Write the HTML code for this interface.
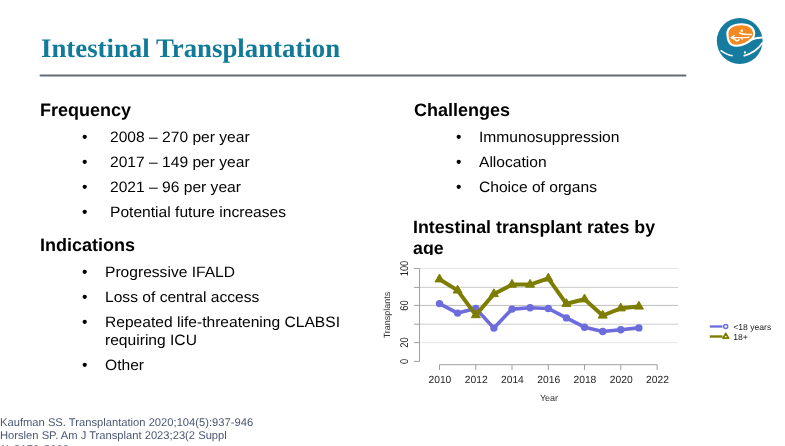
<!DOCTYPE html>
<html><head><meta charset="utf-8">
<style>
html,body{margin:0;padding:0;background:#fff;}
body{width:785px;height:446px;position:relative;overflow:hidden;will-change:transform;text-rendering:geometricPrecision;font-family:"Liberation Sans",sans-serif;color:#000;}
.a{position:absolute;white-space:nowrap;line-height:1;}
.title{font-family:"Liberation Serif",serif;font-weight:bold;font-size:26.8px;color:#117a98;left:41px;top:35.2px;}
.rule{position:absolute;left:39.5px;top:74.4px;width:647px;height:2px;border-radius:1px;background:#636b74;}
.h{font-weight:bold;font-size:18px;}
.t{font-size:15px;transform:scaleX(1.04);transform-origin:0 0;}
.b{font-size:15.6px;}
.ref{font-size:11.2px;color:#4b5874;}
svg{position:absolute;left:0;top:0;}
</style></head><body>
<svg width="785" height="446" viewBox="0 0 785 446">
<circle cx="739.7" cy="41" r="22.9" fill="#167c9f"/>
<path d="M727.4,34 C727.2,27.5 733.5,24.2 741.5,24.2 C749.5,24.2 754.2,28 754.2,33.5 C754.2,38 750.5,41 746,43.3 C741,45.6 735,46.3 731.5,44.6 C728.5,42.8 727.5,38.5 727.4,34Z" fill="#f3891f" stroke="#fff" stroke-width="2.1"/>
<path d="M749,40.6 C753.5,38.6 757.5,37.3 762.9,37.5" fill="none" stroke="#fff" stroke-width="1.8"/>
<path d="M762.9,42.3 C759.5,47.5 755,53 743.6,55.9" fill="none" stroke="#fff" stroke-width="1.6"/>
<path d="M720.6,50.4 C724.5,53.3 728,55.3 732.8,55.7" fill="none" stroke="#fff" stroke-width="1.6"/>
<circle cx="745" cy="52.4" r="1.1" fill="#fff"/>
<circle cx="741.8" cy="30.8" r="1.2" fill="#fff"/>
<path d="M739.3,32.2 C740,34.2 743,34.5 751.8,34.5" fill="none" stroke="#fff" stroke-width="1.4"/>
<path d="M734.6,35.2 L731.3,37.6 L734.2,39.2 M731.6,37.6 C738,37.5 744,37.6 749.5,37.3" fill="none" stroke="#fff" stroke-width="1.3"/>
<path d="M734.5,38.6 C735.5,41.5 738.5,41.6 739.2,39" fill="none" stroke="#fff" stroke-width="1.5"/>
<path d="M741.2,38.2 L742.6,39.6" fill="none" stroke="#fff" stroke-width="1.2"/>
</svg>
<div class="a title">Intestinal Transplantation</div>
<svg width="785" height="446" style="position:absolute;left:0;top:0"><line x1="40.5" y1="75.4" x2="685.5" y2="75.4" stroke="#636b74" stroke-width="2" stroke-linecap="round"/></svg>

<div class="a h" style="left:40px;top:101px">Frequency</div>
<div class="a b" style="left:82px;top:129.7px">•</div><div class="a t" style="left:110px;top:129.51px">2008 – 270 per year</div>
<div class="a b" style="left:82px;top:154.7px">•</div><div class="a t" style="left:110px;top:154.51px">2017 – 149 per year</div>
<div class="a b" style="left:82px;top:179.7px">•</div><div class="a t" style="left:110px;top:179.51px">2021 – 96 per year</div>
<div class="a b" style="left:82px;top:204.7px">•</div><div class="a t" style="left:110px;top:204.51px">Potential future increases</div>

<div class="a h" style="left:40px;top:236px">Indications</div>
<div class="a b" style="left:82px;top:264.7px">•</div><div class="a t" style="left:105px;top:264.51px">Progressive IFALD</div>
<div class="a b" style="left:82px;top:289.7px">•</div><div class="a t" style="left:105px;top:289.51px">Loss of central access</div>
<div class="a b" style="left:82px;top:314.7px">•</div><div class="a t" style="left:105px;top:314.51px">Repeated life-threatening CLABSI</div>
<div class="a t" style="left:105px;top:332.51px">requiring ICU</div>
<div class="a b" style="left:82px;top:357.7px">•</div><div class="a t" style="left:105px;top:357.51px">Other</div>

<div class="a h" style="left:414px;top:101px">Challenges</div>
<div class="a b" style="left:456px;top:129.7px">•</div><div class="a t" style="left:479px;top:129.51px">Immunosuppression</div>
<div class="a b" style="left:456px;top:154.7px">•</div><div class="a t" style="left:479px;top:154.51px">Allocation</div>
<div class="a b" style="left:456px;top:179.7px">•</div><div class="a t" style="left:479px;top:179.51px">Choice of organs</div>

<div class="a h" style="left:413px;top:218.5px;font-size:17.8px">Intestinal transplant rates by</div>
<div style="position:absolute;left:400px;top:230px;width:300px;height:25px;overflow:hidden">
<div class="a h" style="left:13px;top:9.5px;font-size:17.8px">age</div>
</div>

<svg width="785" height="446" viewBox="0 0 785 446">
<g stroke-width="1" fill="none">
<line x1="419.5" y1="268.5" x2="678" y2="268.5" stroke="#e6e6e6"/>
<line x1="419.5" y1="287.4" x2="678" y2="287.4" stroke="#cdcdcd"/>
<line x1="419.5" y1="305.4" x2="678" y2="305.4" stroke="#bdbdbd"/>
<line x1="419.5" y1="324.2" x2="678" y2="324.2" stroke="#cdcdcd"/>
<line x1="419.5" y1="342.6" x2="678" y2="342.6" stroke="#e6e6e6"/>
</g>
<g stroke="#a0a0a0" stroke-width="1" fill="none">
<path d="M419.5,268.5 V361.4 M414,268.5 H419.5 M414,287.4 H419.5 M414,305.4 H419.5 M414,324.2 H419.5 M414,342.6 H419.5 M414,361.4 H419.5"/>
<path d="M439.5,370 V364.7 H657.1 V370 M475.8,364.7 V370 M512,364.7 V370 M548.3,364.7 V370 M584.5,364.7 V370 M620.8,364.7 V370"/>
</g>
<polyline points="439.5,303.6 457.6,313.1 475.8,308.5 493.9,328.1 512.0,309.1 530.1,307.7 548.3,308.5 566.4,317.9 584.5,327.2 602.7,331.5 620.8,329.7 638.9,327.9" fill="none" stroke="#6c6cdd" stroke-width="3.6" stroke-linejoin="round"/>
<g fill="#6c6cdd"><circle cx="439.5" cy="303.6" r="3.7"/><circle cx="457.6" cy="313.1" r="3.7"/><circle cx="475.8" cy="308.5" r="3.7"/><circle cx="493.9" cy="328.1" r="3.7"/><circle cx="512.0" cy="309.1" r="3.7"/><circle cx="530.1" cy="307.7" r="3.7"/><circle cx="548.3" cy="308.5" r="3.7"/><circle cx="566.4" cy="317.9" r="3.7"/><circle cx="584.5" cy="327.2" r="3.7"/><circle cx="602.7" cy="331.5" r="3.7"/><circle cx="620.8" cy="329.7" r="3.7"/><circle cx="638.9" cy="327.9" r="3.7"/></g>
<polyline points="439.5,279.3 457.6,290.4 475.8,315.1 493.9,294.0 512.0,284.6 530.1,284.6 548.3,278.4 566.4,303.8 584.5,299.3 602.7,315.5 620.8,308.3 638.9,306.5" fill="none" stroke="#7d7d00" stroke-width="4" stroke-linejoin="round"/>
<g fill="#7d7d00" stroke="#7d7d00" stroke-width="1" stroke-linejoin="round"><path d="M439.5,274.1 L444.0,281.9 L435.0,281.9Z"/><path d="M457.6,285.2 L462.1,293.0 L453.1,293.0Z"/><path d="M475.8,309.9 L480.3,317.7 L471.3,317.7Z"/><path d="M493.9,288.8 L498.4,296.6 L489.4,296.6Z"/><path d="M512.0,279.4 L516.5,287.2 L507.5,287.2Z"/><path d="M530.1,279.4 L534.6,287.2 L525.6,287.2Z"/><path d="M548.3,273.2 L552.8,281.0 L543.8,281.0Z"/><path d="M566.4,298.6 L570.9,306.4 L561.9,306.4Z"/><path d="M584.5,294.1 L589.0,301.9 L580.0,301.9Z"/><path d="M602.7,310.3 L607.2,318.1 L598.2,318.1Z"/><path d="M620.8,303.1 L625.3,310.9 L616.3,310.9Z"/><path d="M638.9,301.3 L643.4,309.1 L634.4,309.1Z"/></g>
<g font-family="Liberation Sans" font-size="10.3" fill="#262626" text-anchor="middle">
<text x="439.9" y="383.2">2010</text><text x="476.2" y="383.2">2012</text><text x="512.4" y="383.2">2014</text><text x="548.7" y="383.2">2016</text><text x="584.9" y="383.2">2018</text><text x="621.2" y="383.2">2020</text><text x="657.5" y="383.2">2022</text>
</g>
<g font-family="Liberation Sans" font-size="9.4" fill="#262626" text-anchor="middle">
<text transform="translate(408.3,268.5) rotate(-90) scale(1,1.2)">100</text>
<text transform="translate(408.3,305.5) rotate(-90) scale(1,1.2)">60</text>
<text transform="translate(408.3,342.6) rotate(-90) scale(1,1.2)">20</text>
<text transform="translate(408.3,361.4) rotate(-90) scale(1,1.2)">0</text>
</g>
<g font-family="Liberation Sans" font-size="9" fill="#333" text-anchor="middle">
<text x="549" y="401">Year</text>
<text transform="translate(390.4,315) rotate(-90)">Transplants</text>
</g>
<g>
<line x1="709.8" y1="326.5" x2="722.5" y2="326.5" stroke="#6c6cdd" stroke-width="2.3"/>
<circle cx="725.7" cy="326.5" r="2.0" fill="#fff" stroke="#6c6cdd" stroke-width="1.5"/>
<line x1="709.8" y1="336.5" x2="722.5" y2="336.5" stroke="#7d7d00" stroke-width="2.4"/>
<path d="M725.8,333.5 L728.6,338.2 L723,338.2Z" fill="#fff" stroke="#7d7d00" stroke-width="1.8" stroke-linejoin="round"/>
</g>
<g font-family="Liberation Sans" font-size="9" fill="#222">
<text x="733.3" y="329.8" font-size="8.6">&lt;18 years</text>
<text x="733.3" y="339.8" font-size="8.6">18+</text>
</g>
</svg>

<div class="a ref" style="left:0px;top:417.8px">Kaufman SS. Transplantation 2020;104(5):937-946</div>
<div class="a ref" style="left:0px;top:430.8px">Horslen SP. Am J Transplant 2023;23(2 Suppl</div>
<div class="a ref" style="left:0px;top:445px">1):S178-S238</div>

</body></html>
